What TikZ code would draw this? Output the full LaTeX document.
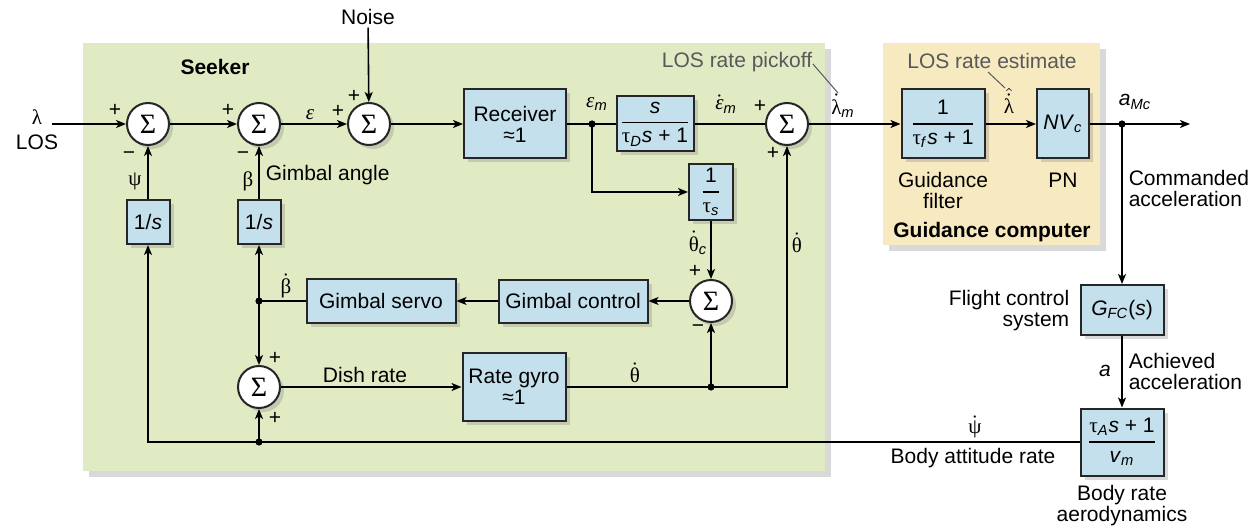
\documentclass[tikz,border=0pt]{standalone}
\usepackage{amsmath}
\usepackage{fontspec}
\setmainfont{Liberation Sans}
\newfontfamily\grk{Liberation Serif}
\usetikzlibrary{arrows.meta,shadows}
\definecolor{seekgreen}{RGB}{224,235,196}
\definecolor{guideyellow}{RGB}{248,234,192}
\definecolor{boxblue}{RGB}{196,224,236}
\definecolor{labgray}{RGB}{88,89,91}
\newcommand\gk[1]{{\grk #1}}
\newcommand\gkdot[1]{$\dot{\text{\grk #1}}$}
\newcommand\frc[2]{$\genfrac{}{}{0.7pt}{0}{\text{#1}}{\text{#2}}$}
\newcommand\sig{{\grk\fontsize{14}{14}\selectfont Σ}}
\begin{document}
\begin{tikzpicture}[x=0.5pt,y=-0.5pt,
  font=\fontsize{10.5}{10.5}\selectfont,
  line width=0.8pt,
  >={Stealth[length=5pt,width=4pt,inset=1.3pt]},
  blk/.style={draw=black!85, line width=1pt, fill=boxblue, inner sep=1pt, align=center,
    drop shadow={shadow xshift=2pt, shadow yshift=-2pt, opacity=0.3}},
  sz/.style 2 args={minimum width=#1*0.5pt, minimum height=#2*0.5pt},
  sum/.style={circle, draw=black!85, line width=1pt, fill=white, minimum size=21pt, inner sep=0pt,
    drop shadow={shadow xshift=2pt, shadow yshift=-2pt, opacity=0.3}},
  lbl/.style={inner sep=1pt},
  gray lbl/.style={inner sep=1pt, text=labgray},
  leader/.style={draw=labgray, line width=0.5pt},
  dot/.style={fill=black}
]
\useasboundingbox (0,0) rectangle (1252,529);
% panels
\path[fill=seekgreen, drop shadow={shadow xshift=3pt, shadow yshift=-3pt, opacity=0.3}] (83,43) rectangle (825,471);
\path[fill=guideyellow, drop shadow={shadow xshift=3pt, shadow yshift=-3pt, opacity=0.3}] (883,43) rectangle (1100,245);
\node[lbl, font=\fontsize{10.5}{10.5}\selectfont\bfseries] (seeker) at (215,67) {Seeker};
\node[lbl, font=\fontsize{10.5}{10.5}\selectfont\bfseries] (gcomp) at (992,232) {Guidance computer};

% main nodes
\node[sum] (s1) at (148,124) {\sig};
\node[sum] (s2) at (259,124) {\sig};
\node[sum] (s3) at (369,124) {\sig};
\node[blk, sz={102}{69}] (rcv) at (515,124) {Receiver\\≈1};
\coordinate (em) at (592,124);
\node[blk, sz={77}{55}] (der) at (655,124) {\frc{\textit{s}}{\gk{τ}\textsubscript{\textit{D}}\textit{s} + 1}};
\node[sum] (s4) at (787,124) {\sig};
\node[blk, sz={44}{56}] (tau) at (711,192) {\frc{1}{\gk{τ}\textsubscript{\textit{s}}}};
\node[sum] (s5) at (711,301) {\sig};
\node[blk, sz={149}{43}] (gc) at (573,301) {Gimbal control};
\node[blk, sz={149}{44}] (gs) at (381,301) {Gimbal servo};
\coordinate (bd) at (259,301);
\node[blk, sz={43}{44}] (i1) at (148,222) {1/\textit{s}};
\node[blk, sz={43}{44}] (i2) at (259,222) {1/\textit{s}};
\node[sum] (s6) at (259,387) {\sig};
\node[blk, sz={103}{68}] (gyro) at (514,387) {Rate gyro\\≈1};
\coordinate (td) at (711,387);
\coordinate (tc) at (787,387);
\node[blk, sz={83}{69}] (gf) at (943,124) {\frc{1}{\gk{τ}\textsubscript{\textit{f}}\textit{s} + 1}};
\node[blk, sz={52}{69}] (pn) at (1063,124) {\textit{NV}\textsubscript{\textit{c}}};
\coordinate (am) at (1122,124);
\coordinate (out) at (1190,124);
\node[blk, sz={83}{50}] (fcs) at (1122,310) {\textit{G}\textsubscript{\textit{FC}}(\textit{s})};
\node[blk, sz={83}{67}] (aero) at (1122,442) {\frc{\gk{τ}\textsubscript{\textit{A}}\textit{s} + 1}{\textit{v}\textsubscript{\textit{m}}}};
\coordinate (bl) at (148,442);
\coordinate (pd) at (259,442);
\coordinate (los) at (52,124);
\node[lbl] (noise) at (368,17) {Noise};
\node[lbl] (lam) at (37,117) {\gk{λ}};
\node[lbl] (losl) at (37,142) {LOS};

% connectors
\draw[->] (los) -- (s1);
\draw[->] (s1) -- (s2);
\draw[->] (s2) -- (s3);
\draw[->] (noise) -- (s3);
\draw[->] (s3) -- (rcv);
\draw (rcv) -- (em) -- (der) -- (s4);
\draw[->] (s4) -- (gf);
\draw[->] (gf) -- (pn);
\draw[->] (pn) -- (am) -- (out);
\draw[->] (am) -- (fcs);
\draw[->] (fcs) -- (aero);
\draw[->] (aero) -- (pd) -- (bl) -- (i1);
\draw[->] (pd) -- (s6);
\draw[->] (i1) -- (s1);
\draw[->] (i2) -- (s2);
\draw[->] (em) |- (tau);
\draw[->] (tau) -- (s5);
\draw[->] (s5) -- (gc);
\draw[->] (gc) -- (gs);
\draw (gs) -- (bd);
\draw[->] (bd) -- (i2);
\draw[->] (bd) -- (s6);
\draw[->] (s6) -- (gyro);
\draw[->] (gyro) -- (td) -- (tc) -- (s4);
\draw[->] (td) -- (s5);
\fill[dot] (em) circle[radius=1.8pt];
\fill[dot] (am) circle[radius=1.8pt];
\fill[dot] (bd) circle[radius=1.8pt];
\fill[dot] (td) circle[radius=1.8pt];
\fill[dot] (pd) circle[radius=1.8pt];

% signs
\node[lbl] (p1a) at (115,110) {+};
\node[lbl] (m1) at (129,156) {−};
\node[lbl] (p2a) at (228,110) {+};
\node[lbl] (m2) at (243,156) {−};
\node[lbl] (p3a) at (338,111) {+};
\node[lbl] (p3b) at (354,96) {+};
\node[lbl] (p4a) at (760,106) {+};
\node[lbl] (p4b) at (773,153) {+};
\node[lbl] (p5a) at (695,271) {+};
\node[lbl] (m5) at (698,329) {−};
\node[lbl] (p6a) at (275,358) {+};
\node[lbl] (p6b) at (275,418) {+};

% signal labels
\node[lbl] (psi) at (135,181) {\gk{ψ}};
\node[lbl] (beta) at (248,181) {\gk{β}};
\node[lbl, anchor=west] (gang) at (263,175) {Gimbal angle};
\node[lbl] (eps) at (310,115) {\gk{\itshape ε}};
\node[lbl] (epsm) at (597,104) {\gk{\itshape ε}\textsubscript{\textit{m}}};
\node[lbl] (epsmd) at (726,104) {$\dot{\text{\grk\itshape ε}}$\textsubscript{\textit{m}}};
\node[lbl] (lamm) at (843,106) {\gkdot{λ}\textsubscript{\textit{m}}};
\node[lbl] (thc) at (698,243) {\gkdot{θ}\textsubscript{\textit{c}}};
\node[lbl] (thr) at (797,243) {\gkdot{θ}};
\node[lbl] (thl) at (635,373) {\gkdot{θ}};
\node[lbl] (betad) at (286,286) {\gkdot{β}};
\node[lbl] (dish) at (365,375) {Dish rate};
\node[lbl] (psid) at (975,427) {\gkdot{ψ}};
\node[lbl] (bar) at (973,458) {Body attitude rate};
\node[lbl] (lamh) at (1009,101) {$\hat{\dot{\text{\grk λ}}}$};
\node[lbl] (amc) at (1135,102) {\textit{a}\textsubscript{\textit{Mc}}};
\node[lbl, align=center] (gfl) at (943,190) {Guidance\\filter};
\node[lbl] (pnl) at (1063,180) {PN};
\node[lbl, align=left, anchor=west] (cmd) at (1126,188) {Commanded\\acceleration};
\node[lbl, align=right, anchor=east] (fcl) at (1072,311) {Flight control\\system};
\node[lbl] (al) at (1105,371) {\textit{a}};
\node[lbl, align=left, anchor=west] (ach) at (1126,371) {Achieved\\acceleration};
\node[lbl, align=center] (bra) at (1122,506) {Body rate\\aerodynamics};

% gray annotations
\node[gray lbl] (pick) at (737,62) {LOS rate pickoff};
\coordinate (pk) at (838,93);
\draw[leader] (pick.east) ++(-2,2) -- (pk);
\node[gray lbl] (est) at (992,61) {LOS rate estimate};
\coordinate (es1) at (988,72);
\coordinate (es2) at (1005,88);
\draw[leader] (es1) -- (es2);
\end{tikzpicture}
\end{document}
